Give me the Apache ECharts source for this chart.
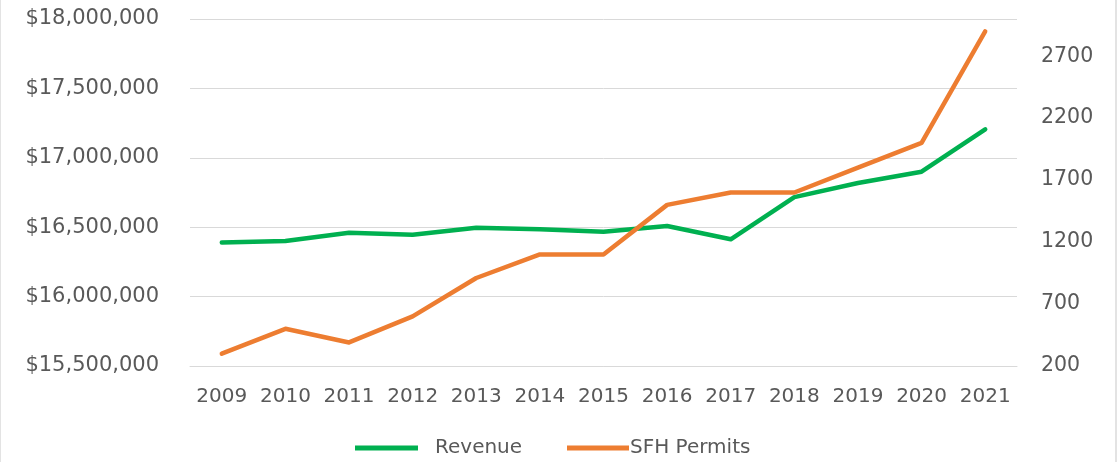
<!DOCTYPE html>
<html>
<head>
<meta charset="utf-8">
<script src="https://cdn.jsdelivr.net/npm/echarts@6/dist/echarts.min.js"></script>
<style>
  html, body { margin: 0; padding: 0; background: #ffffff; }
  #frame { position: absolute; left: 0; top: 0; width: 1117px; height: 462px; border-left: 1px solid #e3e3e3; border-right: 2px solid #e3e3e3; box-sizing: border-box; }
  #chart { position: absolute; left: 0; top: 0; width: 1119px; height: 462px; }
</style>
</head>
<body>
<div id="frame"></div>
<div id="chart"></div>
<script>
const years = ['2009','2010','2011','2012','2013','2014','2015','2016','2017','2018','2019','2020','2021'];
const revenue = [16390000, 16400000, 16460000, 16445000, 16496000, 16485000, 16468000, 16509000, 16413000, 16717000, 16818000, 16900000, 17205000];
const sfhPermits = [300, 500, 390, 600, 910, 1100, 1100, 1500, 1600, 1600, 1800, 2000, 2900];
const revenueTicks = [15500000, 18000000, 500000];
const permitTicks = [200, 3000, 500];

const FONT = 'DejaVu Sans';
const LABEL = '#595959';

function money(v) {
  return '$' + Math.round(v).toString().replace(/\B(?=(\d{3})+(?!\d))/g, ',');
}

const chart = echarts.init(document.getElementById('chart'), null, { renderer: 'canvas' });
chart.setOption({
  animation: false,
  backgroundColor: 'transparent',
  grid: { left: 190, right: 102, top: 19, bottom: 96, containLabel: false },
  legend: [
    {
      left: 355,
      top: 438,
      padding: 0,
      itemWidth: 63,
      itemHeight: 5,
      icon: 'rect',
      textStyle: { fontFamily: FONT, fontSize: 20, color: LABEL, padding: [0, 0, 0, 12] },
      data: ['Revenue']
    },
    {
      left: 567,
      top: 438,
      padding: 0,
      itemWidth: 62,
      itemHeight: 5,
      itemGap: 0,
      icon: 'rect',
      textStyle: { fontFamily: FONT, fontSize: 20, color: LABEL, padding: [0, 0, 0, -4] },
      data: ['SFH Permits']
    }
  ],
  xAxis: {
    type: 'category',
    data: years,
    boundaryGap: true,
    axisLine: { show: true, lineStyle: { color: '#d9d9d9', width: 1 } },
    axisTick: { show: false },
    axisLabel: { fontFamily: FONT, fontSize: 20, color: LABEL, margin: 21, interval: 0 }
  },
  yAxis: [
    {
      type: 'value',
      min: revenueTicks[0],
      max: revenueTicks[1],
      interval: revenueTicks[2],
      axisLine: { show: false },
      axisTick: { show: false },
      splitLine: { lineStyle: { color: '#d9d9d9', width: 1 } },
      axisLabel: { fontFamily: FONT, fontSize: 21, color: LABEL, margin: 31, formatter: money }
    },
    {
      type: 'value',
      min: permitTicks[0],
      max: permitTicks[1],
      interval: permitTicks[2],
      position: 'right',
      axisLine: { show: false },
      axisTick: { show: false },
      splitLine: { show: false },
      axisLabel: {
        fontFamily: FONT, fontSize: 20.5, color: LABEL, margin: 24,
        formatter: function (v) { return v === permitTicks[1] ? '' : String(v); }
      }
    }
  ],
  series: [
    {
      name: 'Revenue',
      type: 'line',
      yAxisIndex: 0,
      data: revenue,
      symbol: 'none',
      lineStyle: { color: '#00B050', width: 4.5, cap: 'round', join: 'round' },
      itemStyle: { color: '#00B050' }
    },
    {
      name: 'SFH Permits',
      type: 'line',
      yAxisIndex: 1,
      data: sfhPermits,
      symbol: 'none',
      lineStyle: { color: '#ED7D31', width: 4.5, cap: 'round', join: 'round' },
      itemStyle: { color: '#ED7D31' }
    }
  ]
});
</script>
</body>
</html>
